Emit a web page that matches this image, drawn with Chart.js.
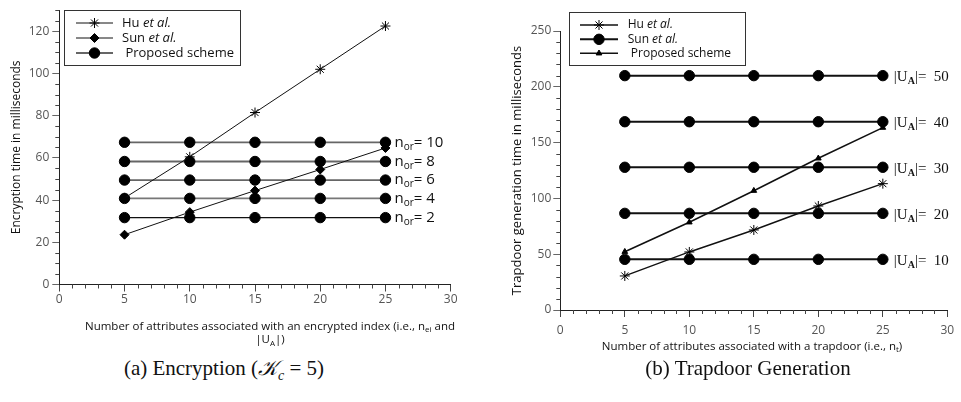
<!DOCTYPE html>
<html>
<head>
<meta charset="utf-8">
<script src="https://cdn.jsdelivr.net/npm/chart.js@4.4.1/dist/chart.umd.min.js"></script>
<style>
html, body { margin: 0; padding: 0; background: #fff; }
#wrap { position: relative; width: 961px; height: 402px; overflow: hidden; background: #fff; }
canvas { position: absolute; top: 0; }
.cap { position: absolute; top: 356px; font-family: "Liberation Serif", serif; font-size: 21px; line-height: 24px;
       color: #111; white-space: nowrap; transform: translateX(-50%); }
.cap .k { font-family: "DejaVu Serif", "Liberation Serif", serif; font-style: italic; }
.cap sub { font-size: 14px; font-style: italic; }
</style>
</head>
<body>
<div id="wrap">
  <canvas id="encChart" width="480" height="350" style="left:0"></canvas>
  <canvas id="tdChart" width="481" height="360" style="left:480px"></canvas>
  <div class="cap" style="left:224px">(a) Encryption (<span class="k">𝒦</span><sub>c</sub> = 5)</div>
  <div class="cap" style="left:748px">(b) Trapdoor Generation</div>
</div>
<script>
// x values shared by both panels
const attrCounts = [5, 10, 15, 20, 25];

// (a) encryption time, ms
const encHu = [41, 60.5, 81.5, 102, 122.5];
const encSun = [23.6, 34.3, 44.5, 54.5, 64.7];
const encOrLevels = [2, 4, 6, 8, 10];
const encProp2 = [31.7, 31.7, 31.7, 31.7, 31.7];
const encProp4 = [40.8, 40.8, 40.8, 40.8, 40.8];
const encProp6 = [49.5, 49.5, 49.5, 49.5, 49.5];
const encProp8 = [58.3, 58.3, 58.3, 58.3, 58.3];
const encProp10 = [67.4, 67.4, 67.4, 67.4, 67.4];

// (b) trapdoor generation time, ms
const tdHu = [30.5, 52, 71.7, 93.2, 113.2];
const tdProposed = [52.2, 78.6, 106.9, 135.9, 163.4];
const tdUaLevels = [10, 20, 30, 40, 50];
const tdSun10 = [45.4, 45.4, 45.4, 45.4, 45.4];
const tdSun20 = [86.6, 86.6, 86.6, 86.6, 86.6];
const tdSun30 = [127.9, 127.9, 127.9, 127.9, 127.9];
const tdSun40 = [168.7, 168.7, 168.7, 168.7, 168.7];
const tdSun50 = [210, 210, 210, 210, 210];

const xTicks = [0, 5, 10, 15, 20, 25, 30];

const SANS = '"Open Sans", "DejaVu Sans", sans-serif';
const SERIF = '"Liberation Serif", "DejaVu Serif", serif';

function pts(values) {
    return attrCounts.map((x, i) => ({ x: x, y: values[i] }));
}

// draw a run of text pieces: '' normal, 'i' italic, 's' subscript, 'sb' bold subscript
function drawRich(ctx, x, y, parts, size, family, align) {
    const fontFor = k => (k === 'i' ? 'italic ' : '') + (k === 'sb' ? 'bold ' : '') +
        ((k === 's' || k === 'sb') ? Math.round(size * 0.66) : size) + 'px ' + family;
    let total = 0;
    parts.forEach(p => { ctx.font = fontFor(p[1]); total += ctx.measureText(p[0]).width; });
    let cx = align === 'center' ? x - total / 2 : x;
    ctx.textAlign = 'left';
    ctx.textBaseline = 'middle';
    parts.forEach(p => {
        ctx.font = fontFor(p[1]);
        const dy = (p[1] === 's' || p[1] === 'sb') ? size * 0.3 : 0;
        ctx.fillText(p[0], cx, y + dy);
        cx += ctx.measureText(p[0]).width;
    });
}

// minor tick marks, legend box and in-plot labels
const decorPlugin = {
    id: 'decor',
    afterDraw(chart, args, opts) {
        const ctx = chart.ctx;
        const xs = chart.scales.x, ys = chart.scales.y;
        ctx.save();
        ctx.strokeStyle = '#444';
        ctx.lineWidth = 1;
        ctx.beginPath();
        for (let v = xs.min; v <= xs.max; v += opts.minorX) {
            if (v % opts.majorX === 0) continue;
            const px = Math.round(xs.getPixelForValue(v)) + 0.5;
            ctx.moveTo(px, ys.bottom);
            ctx.lineTo(px, ys.bottom + 4);
        }
        for (let v = ys.min; v <= ys.max; v += opts.minorY) {
            if (v % opts.majorY === 0) continue;
            const py = Math.round(ys.getPixelForValue(v)) + 0.5;
            ctx.moveTo(xs.left, py);
            ctx.lineTo(xs.left - 4, py);
        }
        ctx.stroke();

        // legend
        const lg = opts.legend;
        ctx.strokeStyle = '#333';
        ctx.strokeRect(lg.x + 0.5, lg.y + 0.5, lg.w, lg.h);
        lg.rows.forEach(r => {
            const ds = chart.data.datasets[r.ds];
            ctx.strokeStyle = ds.borderColor;
            ctx.lineWidth = ds.borderWidth;
            ctx.beginPath();
            ctx.moveTo(lg.lineX0, r.y);
            ctx.lineTo(lg.lineX1, r.y);
            ctx.stroke();
            ctx.fillStyle = '#000';
            ctx.strokeStyle = '#000';
            ctx.lineWidth = ds.pointBorderWidth || 1;
            Chart.helpers.drawPoint(ctx, {
                pointStyle: ds.pointStyle, radius: ds.pointRadius, rotation: 0,
                borderWidth: ds.pointBorderWidth || 1
            }, (lg.lineX0 + lg.lineX1) / 2, r.y);
            ctx.fillStyle = '#111';
            drawRich(ctx, lg.textX, r.y, r.parts, lg.size, SANS, 'left');
        });

        // labels at the end of each level line
        ctx.fillStyle = '#111';
        opts.endLabels.forEach(l => {
            const ds = chart.data.datasets[l.ds];
            const last = ds.data[ds.data.length - 1];
            drawRich(ctx, xs.getPixelForValue(last.x) + opts.labelGap,
                ys.getPixelForValue(last.y) + (l.dy || 0), l.parts, opts.labelSize, opts.labelFont, 'left');
        });

        // x-axis title lines
        ctx.fillStyle = '#111';
        opts.xTitle.forEach(t => drawRich(ctx, t.x, t.y, t.parts, opts.xTitleSize, SANS, 'center'));
        ctx.restore();
    }
};

function axisX(height, padding) {
    return {
        type: 'linear', min: 0, max: 30,
        afterBuildTicks: s => { s.ticks = xTicks.map(v => ({ value: v })); },
        afterFit: s => { s.height = height; },
        grid: { drawOnChartArea: false, tickLength: 7, color: '#444', tickColor: '#444' },
        border: { display: true, color: '#222', width: 1 },
        ticks: { color: '#555', padding: padding, font: { family: SANS, size: 12 } }
    };
}

// ---------- (a) encryption ----------
const encLine = (data, color, style, radius, width, bw) => ({
    data: pts(data), borderColor: color, borderWidth: width, backgroundColor: '#000',
    pointStyle: style, pointRadius: radius, pointBackgroundColor: '#000', pointBorderColor: '#000',
    pointBorderWidth: bw, fill: false, tension: 0
});

const encSets = [
    encLine(encHu, '#111', 'star', 5, 1, 1),
    encLine(encSun, '#111', 'rectRot', 4.5, 1, 1),
    encLine(encProp10, '#666', 'circle', 5.2, 1.8, 1),
    encLine(encProp8, '#666', 'circle', 5.2, 1.8, 1),
    encLine(encProp6, '#666', 'circle', 5.2, 1.8, 1),
    encLine(encProp4, '#777', 'circle', 5.2, 1.8, 1),
    encLine(encProp2, '#111', 'circle', 5.2, 1.2, 1)
];

new Chart(document.getElementById('encChart'), {
    type: 'line',
    data: { datasets: encSets },
    options: {
        responsive: false, animation: false,
        layout: { padding: { top: 8, right: 29.3, left: 0, bottom: 0 } },
        plugins: {
            legend: { display: false }, tooltip: { enabled: false },
            decor: {
                minorX: 1, majorX: 5, minorY: 5, majorY: 20,
                legend: {
                    x: 64, y: 10, w: 176, h: 55, lineX0: 76, lineX1: 113, textX: 122, size: 13,
                    rows: [
                        { ds: 0, y: 23, parts: [['Hu ', ''], ['et al.', 'i']] },
                        { ds: 1, y: 38, parts: [['Sun ', ''], ['et al.', 'i']] },
                        { ds: 2, y: 53, parts: [[' Proposed scheme', '']] }
                    ]
                },
                labelGap: 9, labelSize: 15, labelFont: SANS,
                endLabels: [2, 3, 4, 5, 6].map((d, i) => ({
                    ds: d, parts: [['n', ''], ['or', 's'], ['= ' + encOrLevels[4 - i], '']]
                })),
                xTitleSize: 11.5,
                xTitle: [
                    { x: 270, y: 326.7, parts: [['Number of attributes associated with an encrypted index (i.e., n', ''], ['ei', 's'], [' and', '']] },
                    { x: 270, y: 340, parts: [['|U', ''], ['A', 's'], ['|)', '']] }
                ]
            }
        },
        scales: {
            x: axisX(350 - 284.5, 0.5),
            y: {
                type: 'linear', min: 0, max: 130,
                afterFit: s => { s.width = 59.3; },
                grid: { drawOnChartArea: false, tickLength: 7, color: '#444', tickColor: '#666' },
                border: { display: true, color: '#222', width: 1 },
                ticks: { stepSize: 20, includeBounds: false, color: '#555', padding: 3, font: { family: SANS, size: 12 } },
                title: { display: true, text: 'Encryption time in milliseconds', color: '#111',
                         padding: { top: 9.5 }, font: { family: SANS, size: 12 } }
            }
        }
    },
    plugins: [decorPlugin]
});

// ---------- (b) trapdoor generation ----------
const tdSets = [
    encLine(tdHu, '#111', 'star', 5, 1.4, 1),
    encLine(tdSun50, '#111', 'circle', 5.2, 2, 1),
    encLine(tdProposed, '#111', 'triangle', 3.3, 1.6, 1),
    encLine(tdSun40, '#111', 'circle', 5.2, 2, 1),
    encLine(tdSun30, '#111', 'circle', 5.2, 2, 1),
    encLine(tdSun20, '#111', 'circle', 5.2, 2, 1),
    encLine(tdSun10, '#111', 'circle', 5.2, 2, 1)
];

new Chart(document.getElementById('tdChart'), {
    type: 'line',
    data: { datasets: tdSets },
    options: {
        responsive: false, animation: false,
        layout: { padding: { top: 31, right: 8.3, left: 0, bottom: 0 } },
        plugins: {
            legend: { display: false }, tooltip: { enabled: false },
            decor: {
                minorX: 1, majorX: 5, minorY: 10, majorY: 50,
                legend: {
                    x: 89, y: 12, w: 176, h: 53, lineX0: 100, lineX1: 138, textX: 147.7, size: 12,
                    rows: [
                        { ds: 0, y: 25, parts: [['Hu ', ''], ['et al.', 'i']] },
                        { ds: 1, y: 39.3, parts: [['Sun ', ''], ['et al.', 'i']] },
                        { ds: 2, y: 53.3, parts: [[' Proposed scheme', '']] }
                    ]
                },
                labelGap: 11, labelSize: 15, labelFont: SERIF,
                endLabels: [1, 3, 4, 5, 6].map((d, i) => ({
                    ds: d, dy: 1.5, parts: [['|U', ''], ['A', 'sb'], ['|=  ' + tdUaLevels[4 - i], '']]
                })),
                xTitleSize: 11.5,
                xTitle: [
                    { x: 272, y: 346.7, parts: [['Number of attributes associated with a trapdoor (i.e., n', ''], ['t', 's'], [')', '']] }
                ]
            }
        },
        scales: {
            x: axisX(360 - 310, 6.8),
            y: {
                type: 'linear', min: 0, max: 250,
                afterFit: s => { s.width = 80.3; },
                grid: { drawOnChartArea: false, tickLength: 7, color: '#444', tickColor: '#666' },
                border: { display: true, color: '#222', width: 1 },
                ticks: { stepSize: 50, includeBounds: false, color: '#555', padding: 2, font: { family: SANS, size: 12 } },
                title: { display: true, text: 'Trapdoor generation time in milliseconds', color: '#111',
                         padding: { top: 29 }, font: { family: SANS, size: 13 } }
            }
        }
    },
    plugins: [decorPlugin]
});
</script>
</body>
</html>
